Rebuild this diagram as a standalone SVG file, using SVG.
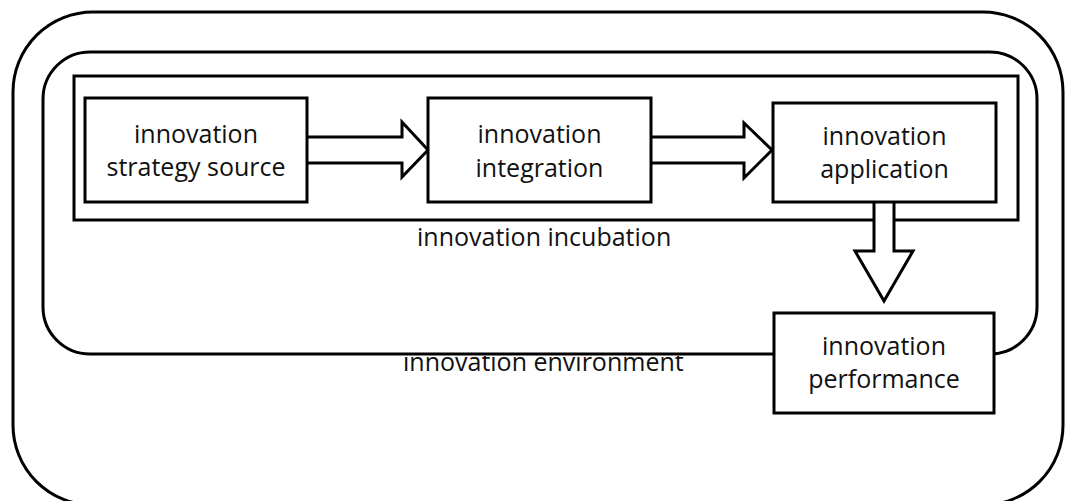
<svg xmlns="http://www.w3.org/2000/svg" width="1073" height="501" viewBox="0 0 1073 501">
  <style>
    .frame { fill: none; stroke: #000; stroke-width: 3; }
    .box { fill: #fff; stroke: #000; stroke-width: 3; }
    .arrow { fill: #fff; stroke: #000; stroke-width: 3; stroke-linejoin: miter; }
    .label { font-family: "Open Sans", "Liberation Sans", sans-serif; font-size: 25px; fill: #111; }
    .mid { text-anchor: middle; }
  </style>
  <defs>
    <clipPath id="env-clip">
      <rect x="380" y="356" width="320" height="40"/>
    </clipPath>
  </defs>
  <rect width="1073" height="501" fill="#fff"/>

  <!-- innovation environment (outer frame) -->
  <g id="environment">
    <rect class="frame" x="13" y="12" width="1050" height="493" rx="80" ry="80"/>
    <text class="label" x="403" y="371" clip-path="url(#env-clip)">innovation environment</text>
  </g>

  <!-- middle frame -->
  <g id="middle-frame">
    <rect class="frame" x="43" y="52" width="994" height="302" rx="47" ry="47"/>
  </g>

  <!-- innovation incubation -->
  <g id="incubation">
    <rect class="frame" x="74" y="76" width="944" height="144"/>
    <text class="label" x="417" y="246">innovation incubation</text>
  </g>

  <!-- block arrows -->
  <g id="connectors">
    <polygon class="arrow" points="300,137 402,137 402,122 428,150 402,177 402,163 300,163"/>
    <polygon class="arrow" points="645,137 744,137 744,123 772,150 744,178 744,163 645,163"/>
    <polygon class="arrow" points="874,195 874,251 855,251 884,301 913,251 894,251 894,195"/>
  </g>

  <g id="strategy-source">
    <rect class="box" x="85" y="98" width="222" height="104"/>
    <text class="label mid" x="196" y="143">innovation</text>
    <text class="label mid" x="196" y="176">strategy source</text>
  </g>

  <g id="integration">
    <rect class="box" x="428" y="98" width="223" height="104"/>
    <text class="label mid" x="539.5" y="143">innovation</text>
    <text class="label mid" x="539.5" y="177">integration</text>
  </g>

  <g id="application">
    <rect class="box" x="773" y="103" width="223" height="99"/>
    <text class="label mid" x="884.5" y="145">innovation</text>
    <text class="label mid" x="884.5" y="178">application</text>
  </g>

  <g id="performance">
    <rect class="box" x="774" y="313" width="220" height="100"/>
    <text class="label mid" x="884" y="355">innovation</text>
    <text class="label mid" x="884" y="388">performance</text>
  </g>
</svg>
